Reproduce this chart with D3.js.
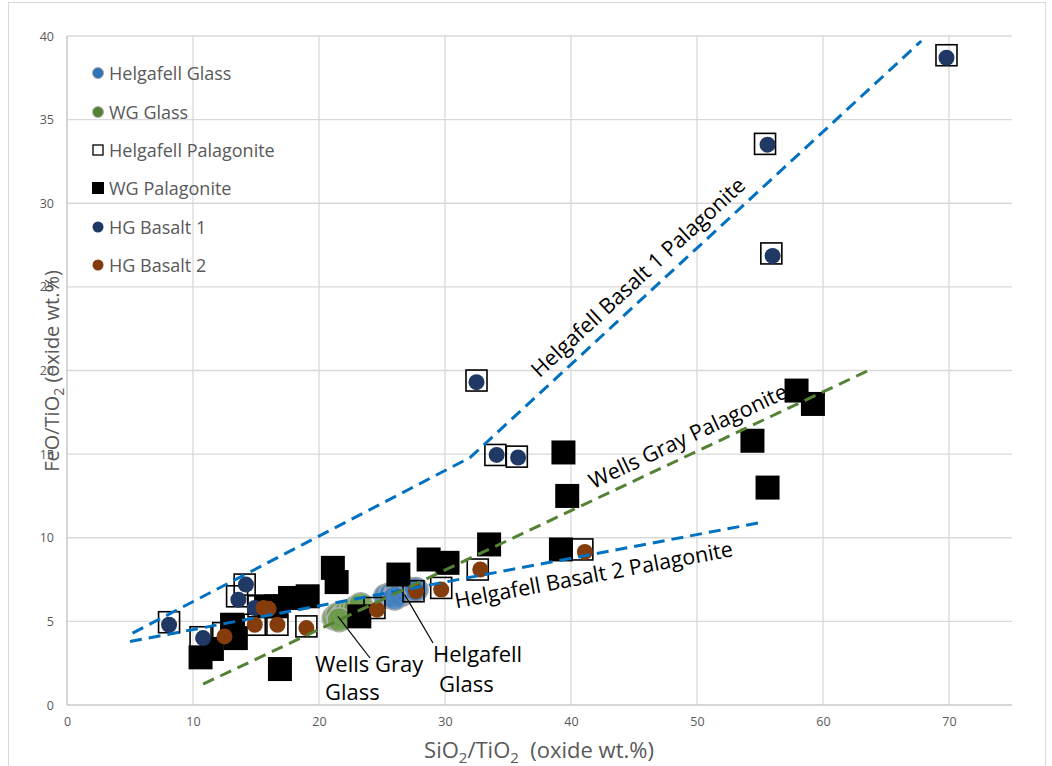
<!DOCTYPE html>
<html><head><meta charset="utf-8">
<script src="https://cdn.jsdelivr.net/npm/d3@7"></script>
<style>body{margin:0;background:#fff}svg{display:block;font-family:"Open Sans",sans-serif}</style>
</head><body><svg id="c" width="1052" height="766"></svg>
<script>
// ---- data ----
const xTicks = [0,10,20,30,40,50,60,70];
const yTicks = [0,5,10,15,20,25,30,35,40];
const legendLabels = ["Helgafell Glass","WG Glass","Helgafell Palagonite","WG Palagonite","HG Basalt 1","HG Basalt 2"];
const helgafellGlass = [[25.3,6.5],[25.7,6.6],[26.1,6.7],[26.5,6.6],[26.9,6.8],[27.3,6.9],[27.7,6.9],[26.0,6.4]];
const wgGlass = [[21.2,5.2],[21.5,5.4],[21.8,5.3],[22.1,5.5],[22.5,5.6],[22.9,5.8],[23.3,6.0],[21.6,5.1]];
const helgafellPalagonite = [[69.8,38.85],[55.4,33.55],[55.9,27.0],[32.5,19.4],[34.0,14.95],[35.7,14.85],
  [8.1,4.95],[10.6,4.05],[12.4,4.3],[14.9,4.8],[16.7,4.8],[19.0,4.7],[13.5,6.5],[14.1,7.2],[15.2,5.9],
  [24.4,5.8],[27.5,6.8],[29.7,7.0],[32.6,8.1],[40.9,9.3]];
const wgPalagonite = [[10.6,2.85],[11.5,3.35],[13.1,4.8],[13.4,4.0],[16.9,2.15],[15.8,5.9],[16.6,5.9],
  [17.7,6.4],[19.1,6.5],[21.1,8.2],[21.4,7.35],[23.2,5.3],[26.3,7.8],[28.7,8.7],[30.2,8.5],[33.5,9.6],
  [39.2,9.3],[39.4,15.1],[39.7,12.5],[54.4,15.8],[55.6,13.0],[57.9,18.8],[59.2,18.0]];
const hgBasalt1 = [[69.8,38.7],[55.6,33.5],[56.0,26.85],[32.5,19.3],[34.1,14.95],[35.8,14.8],
  [8.1,4.8],[10.8,4.0],[13.6,6.3],[14.2,7.2],[14.9,5.8]];
const hgBasalt2 = [[12.5,4.1],[14.9,4.8],[16.7,4.8],[19.0,4.6],[15.6,5.8],[16.0,5.75],
  [24.6,5.7],[27.7,6.8],[29.7,6.9],[32.8,8.1],[41.1,9.15]];
const basalt1Trend = [[5.2,4.3],[32,14.8],[67.8,39.7]];
const basalt2Trend = [[5.0,3.8],[55.0,10.9]];
const wellsGrayTrend = [[10.8,1.25],[63.6,20.0]];

// ---- chart ----
const svg = d3.select("#c");
const x = d3.scaleLinear().domain([0,75]).range([67,1012]);
const y = d3.scaleLinear().domain([0,40]).range([705,36]);

svg.append("rect").attr("x",8.5).attr("y",2.5).attr("width",1037).attr("height",800)
  .attr("fill","none").attr("stroke","#d9d9d9");

// grid
const g = svg.append("g");
g.selectAll(".vg").data(xTicks.filter(d=>d>0)).join("line")
  .attr("x1",d=>x(d)).attr("x2",d=>x(d)).attr("y1",y(0)).attr("y2",y(40))
  .attr("stroke","#d9d9d9").attr("stroke-width",1.3);
g.selectAll(".hg").data(yTicks.filter(d=>d>0)).join("line")
  .attr("x1",x(0)).attr("x2",x(75)).attr("y1",d=>y(d)).attr("y2",d=>y(d))
  .attr("stroke","#d9d9d9").attr("stroke-width",1.3);
g.append("line").attr("x1",x(0)).attr("x2",x(75)).attr("y1",y(0)).attr("y2",y(0)).attr("stroke","#c8c8c8").attr("stroke-width",1.5);
g.append("line").attr("x1",x(0)).attr("x2",x(0)).attr("y1",y(0)).attr("y2",y(40)).attr("stroke","#c8c8c8").attr("stroke-width",1.5);

// axes tick labels
const xa = svg.append("g").attr("transform",`translate(0,${y(0)})`)
  .call(d3.axisBottom(x).tickValues(xTicks).tickSize(0).tickPadding(12));
const ya = svg.append("g").attr("transform",`translate(${x(0)},0)`)
  .call(d3.axisLeft(y).tickValues(yTicks).tickSize(0).tickPadding(13));
[xa,ya].forEach(a=>{a.select(".domain").remove();
  a.selectAll("text").attr("fill","#595959").style("font-size","12.5px").style("font-family","Open Sans");});

// axis titles
const xt = svg.append("text").attr("x",539).attr("y",758).attr("text-anchor","middle")
  .attr("fill","#595959").style("font-size","22px").style("white-space","pre");
xt.append("tspan").text("SiO");
xt.append("tspan").text("2").attr("dy",5).style("font-size","15px");
xt.append("tspan").text("/TiO").attr("dy",-5);
xt.append("tspan").text("2").attr("dy",5).style("font-size","15px");
xt.append("tspan").text("  (oxide wt.%)").attr("dy",-5);
const yt = svg.append("text").attr("transform","translate(59,371) rotate(-90)").attr("text-anchor","middle")
  .attr("fill","#595959").style("font-size","20px");
yt.append("tspan").text("FeO/TiO");
yt.append("tspan").text("2").attr("dy",5).style("font-size","14px");
yt.append("tspan").text(" (oxide wt.%)").attr("dy",-5);

// markers
const pts = svg.append("g");
pts.selectAll(".hgl").data(helgafellGlass).join("circle")
  .attr("cx",d=>x(d[0])).attr("cy",d=>y(d[1])).attr("r",12)
  .attr("fill","#3f7fc1").attr("fill-opacity",0.85).attr("stroke","#a6a6a6").attr("stroke-width",1.5);
pts.selectAll(".wgl").data(wgGlass).join("circle")
  .attr("cx",d=>x(d[0])).attr("cy",d=>y(d[1])).attr("r",12)
  .attr("fill","#6a9a48").attr("fill-opacity",0.85).attr("stroke","#b0b0b0").attr("stroke-width",1.5);
pts.selectAll(".wgp").data(wgPalagonite).join("rect")
  .attr("x",d=>x(d[0])-12).attr("y",d=>y(d[1])-12).attr("width",24).attr("height",24).attr("fill","#000");
pts.selectAll(".hgp").data(helgafellPalagonite).join("rect")
  .attr("x",d=>x(d[0])-10.5).attr("y",d=>y(d[1])-10.5).attr("width",21).attr("height",21)
  .attr("fill","none").attr("stroke","#000").attr("stroke-width",1.6);
pts.selectAll(".b1").data(hgBasalt1).join("circle")
  .attr("cx",d=>x(d[0])).attr("cy",d=>y(d[1])).attr("r",8).attr("fill","#203864");
pts.selectAll(".b2").data(hgBasalt2).join("circle")
  .attr("cx",d=>x(d[0])).attr("cy",d=>y(d[1])).attr("r",8).attr("fill","#843c0c");

// trend lines
const line = d3.line().x(d=>x(d[0])).y(d=>y(d[1]));
const tl = svg.append("g").attr("fill","none").attr("stroke-width",3).attr("stroke-dasharray","12,7");
tl.append("path").attr("d",line(basalt1Trend)).attr("stroke","#0070c0");
tl.append("path").attr("d",line(basalt2Trend)).attr("stroke","#0070c0");
tl.append("path").attr("d",line(wellsGrayTrend)).attr("stroke","#548235");

// line labels
function lineLabel(seg, t, text, off){
  const p0=[x(seg[0][0]),y(seg[0][1])], p1=[x(seg[1][0]),y(seg[1][1])];
  const ang=Math.atan2(p1[1]-p0[1],p1[0]-p0[0])*180/Math.PI;
  const px=p0[0]+(p1[0]-p0[0])*t, py=p0[1]+(p1[1]-p0[1])*t;
  svg.append("text").attr("transform",`translate(${px},${py}) rotate(${ang})`)
    .attr("y",off).attr("text-anchor","middle").attr("fill","#000").style("font-size","21.5px").text(text);
}
lineLabel([basalt1Trend[1],basalt1Trend[2]],0.40,"Helgafell Basalt 1 Palagonite",-11);
lineLabel(wellsGrayTrend,0.74,"Wells Gray Palagonite",-10);
lineLabel(basalt2Trend,0.73,"Helgafell Basalt 2 Palagonite",28);

// callouts
svg.append("line").attr("x1",x(21.5)).attr("y1",y(5.3)).attr("x2",370).attr("y2",658).attr("stroke","#000").attr("stroke-width",1.2);
svg.append("line").attr("x1",x(26.8)).attr("y1",y(6.6)).attr("x2",433).attr("y2",643).attr("stroke","#000").attr("stroke-width",1.2);
const ct = svg.append("g").attr("fill","#000").style("font-size","22px");
ct.append("text").attr("x",315).attr("y",672).text("Wells Gray");
ct.append("text").attr("x",325).attr("y",700).text("Glass");
ct.append("text").attr("x",433).attr("y",662).text("Helgafell");
ct.append("text").attr("x",439).attr("y",692).text("Glass");

// legend
const leg = svg.append("g");
const ly = [73,112,150,188,227,265];
legendLabels.forEach((t,i)=>{
  const gy = ly[i], gx = 98;
  if(i===0) leg.append("circle").attr("cx",gx).attr("cy",gy).attr("r",5.5).attr("fill","#2e75b6").attr("stroke","#a6a6a6");
  if(i===1) leg.append("circle").attr("cx",gx).attr("cy",gy).attr("r",5.5).attr("fill","#548235").attr("stroke","#b0b0b0");
  if(i===2) leg.append("rect").attr("x",gx-5).attr("y",gy-5).attr("width",10).attr("height",10).attr("fill","#fff").attr("stroke","#000").attr("stroke-width",1.3);
  if(i===3) leg.append("rect").attr("x",gx-6).attr("y",gy-6).attr("width",12).attr("height",12).attr("fill","#000");
  if(i===4) leg.append("circle").attr("cx",gx).attr("cy",gy).attr("r",5.5).attr("fill","#203864");
  if(i===5) leg.append("circle").attr("cx",gx).attr("cy",gy).attr("r",5.5).attr("fill","#843c0c");
  leg.append("text").attr("x",109).attr("y",gy+6.5).attr("fill","#595959").style("font-size","18px").text(t);
});
</script></body></html>
